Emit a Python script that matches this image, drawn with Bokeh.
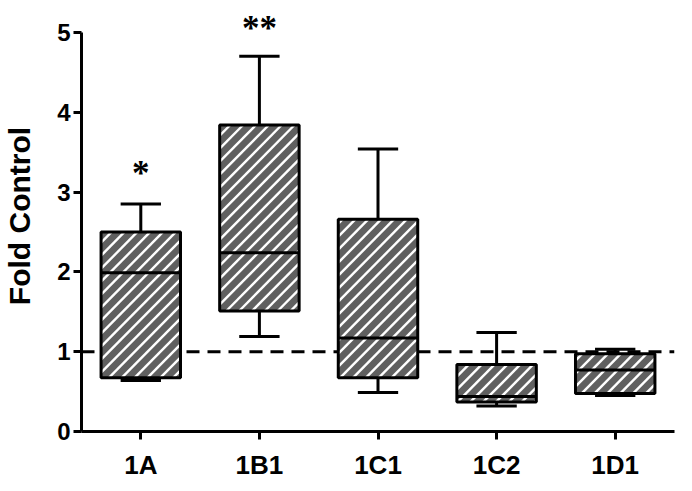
import numpy as np
from bokeh.plotting import figure
from bokeh.models import Range1d, FixedTicker, Span, ColumnDataSource, LabelSet
from bokeh.transform import dodge
from bokeh.embed import file_html
from bokeh.resources import INLINE

categories = ["1A", "1B1", "1C1", "1C2", "1D1"]
whisker_low = [0.64, 1.19, 0.49, 0.32, 0.45]
q1 = [0.675, 1.51, 0.675, 0.37, 0.475]
median = [1.99, 2.24, 1.17, 0.44, 0.77]
q3 = [2.50, 3.84, 2.66, 0.84, 0.975]
whisker_high = [2.85, 4.70, 3.54, 1.24, 1.03]
star_cats = ["1A", "1B1"]
star_labels = ["*", "**"]
star_y = [3.09, 4.90]
y_ticks = [0, 1, 2, 3, 4, 5]
control_level = 1.0

FONT = "Liberation Sans"
BOX_W = 0.67
CAP_W = 0.34
Y_END = 5.40
FRAME_W, FRAME_H = 600, 431
PERIOD = 13.0  # stripe period in px (horizontal)

x_pos = [i + 0.5 for i in range(len(categories))]
src = ColumnDataSource(dict(x=x_pos, lo=whisker_low, q1=q1, med=median,
                            q3=q3, hi=whisker_high))

p = figure(x_range=Range1d(0, len(categories)), y_range=Range1d(0, Y_END),
           width=684, height=483, output_backend="svg", toolbar_location=None,
           min_border_left=74, min_border_right=10, min_border_top=0,
           min_border_bottom=52)
p.outline_line_color = None
p.xgrid.visible = False
p.ygrid.visible = False

span = Span(location=control_level, dimension="width", line_color="black",
            line_width=3, line_dash="13 8", level="underlay")
p.add_layout(span)

# whiskers
p.segment(x0="x", x1="x", y0="q3", y1="hi", source=src, line_color="black", line_width=3)
p.segment(x0="x", x1="x", y0="lo", y1="q1", source=src, line_color="black", line_width=3)
cap_l = dodge("x", -CAP_W / 2, range=p.x_range)
cap_r = dodge("x", CAP_W / 2, range=p.x_range)
p.segment(x0=cap_l, x1=cap_r, y0="hi", y1="hi", source=src, line_color="black", line_width=3)
p.segment(x0=cap_l, x1=cap_r, y0="lo", y1="lo", source=src, line_color="black", line_width=3)

# box fill
p.vbar(x="x", top="q3", bottom="q1", width=BOX_W, source=src,
       fill_color="#606060", line_color=None)

# 45-degree white stripes clipped to each box
kx = FRAME_W / len(categories)
ky = FRAME_H / Y_END
sx, sy = [], []
for cx, b, t in zip(x_pos, q1, q3):
    X0, X1 = (cx - BOX_W / 2) * kx, (cx + BOX_W / 2) * kx
    Y0, Y1 = b * ky, t * ky
    n0 = int(np.floor((Y0 - X1) / PERIOD)) - 1
    n1 = int(np.ceil((Y1 - X0) / PERIOD)) + 1
    for n in range(n0, n1 + 1):
        c = n * PERIOD
        xa, xb = max(X0, Y0 - c), min(X1, Y1 - c)
        if xb > xa + 0.5:
            sx.append([xa / kx, xb / kx])
            sy.append([(xa + c) / ky, (xb + c) / ky])
p.multi_line(xs=sx, ys=sy, line_color="white", line_width=2.4)

# box outline
p.vbar(x="x", top="q3", bottom="q1", width=BOX_W, source=src,
       fill_color=None, line_color="black", line_width=3)

# medians
med_l = dodge("x", -BOX_W / 2, range=p.x_range)
med_r = dodge("x", BOX_W / 2, range=p.x_range)
p.segment(x0=med_l, x1=med_r, y0="med", y1="med", source=src, line_color="black", line_width=3)

# significance stars
star_x = [x_pos[categories.index(c)] for c in star_cats]
star_src = ColumnDataSource(dict(x=star_x, y=star_y, t=star_labels))
p.add_layout(LabelSet(x="x", y="y", text="t", source=star_src, text_font=FONT,
                      text_font_style="bold", text_font_size="35px",
                      text_align="center", text_baseline="alphabetic",
                      text_color="black"))

# axes
for ax in (p.xaxis[0], p.yaxis[0]):
    ax.axis_line_width = 3
    ax.axis_line_color = "black"
    ax.major_tick_line_width = 3
    ax.major_tick_line_color = "black"
    ax.major_tick_out = 8
    ax.major_tick_in = 0
    ax.minor_tick_line_color = None
    ax.major_label_text_font = FONT
    ax.major_label_text_font_style = "bold"
    ax.major_label_text_color = "black"

p.xaxis.ticker = FixedTicker(ticks=x_pos)
p.xaxis.major_label_overrides = {x: c for x, c in zip(x_pos, categories)}
p.xaxis.major_label_text_font_size = "26px"
p.xaxis.major_label_standoff = 10

p.yaxis.major_label_text_font_size = "24px"
p.yaxis.ticker = FixedTicker(ticks=y_ticks)
p.yaxis.bounds = (0, 5)
p.yaxis.major_label_standoff = 3
p.yaxis.axis_label = "Fold Control"
p.yaxis.axis_label_text_font = FONT
p.yaxis.axis_label_text_font_style = "bold"
p.yaxis.axis_label_text_font_size = "30px"
p.yaxis.axis_label_text_color = "black"
p.yaxis.axis_label_standoff = 18

open("out.html", "w").write(file_html(p, INLINE))
